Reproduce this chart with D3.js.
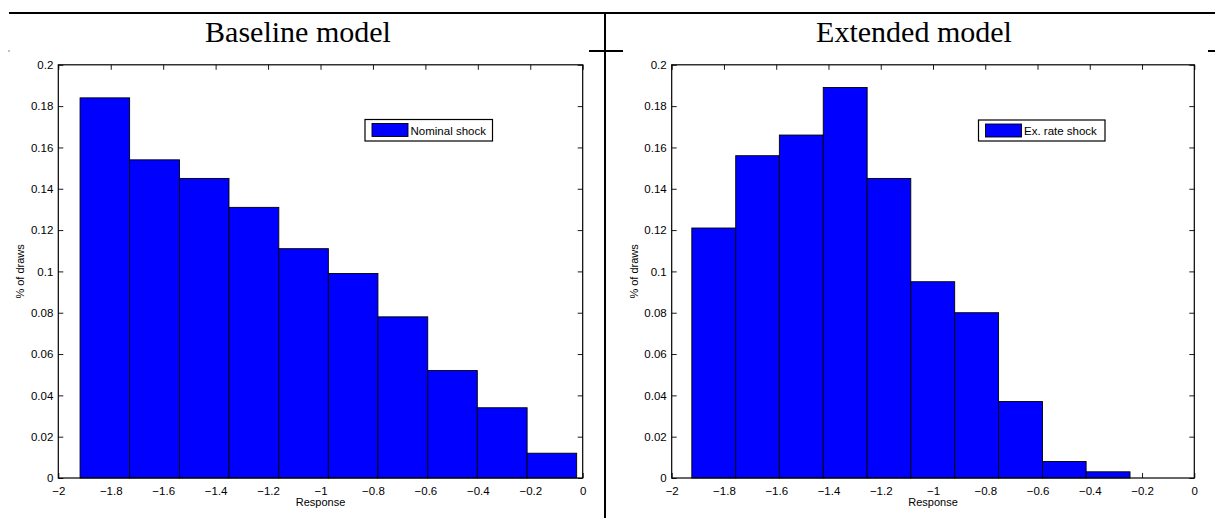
<!DOCTYPE html>
<html>
<head>
<meta charset="utf-8">
<script src="https://cdn.jsdelivr.net/npm/d3@7"></script>
<style>
  html, body { margin: 0; padding: 0; background: #fff; }
  svg { display: block; }
</style>
</head>
<body>
<svg id="chart" width="1215" height="518"></svg>
<script>
// ---------- data ----------
const panelTitles = ["Baseline model", "Extended model"];
const legendLabels = ["Nominal shock", "Ex. rate shock"];
const xTickValues = [-2, -1.8, -1.6, -1.4, -1.2, -1, -0.8, -0.6, -0.4, -0.2, 0];
const yTickValues = [0, 0.02, 0.04, 0.06, 0.08, 0.1, 0.12, 0.14, 0.16, 0.18, 0.2];
const xLabel = "Response";
const yLabel = "% of draws";

// bin edges
const baselineEdges = [-1.917, -1.728, -1.538, -1.349, -1.159, -0.970, -0.781, -0.591, -0.402, -0.212, -0.023];
const baselineValues = [0.184, 0.154, 0.145, 0.131, 0.111, 0.099, 0.078, 0.052, 0.034, 0.012];

const extendedEdges = [-1.923, -1.755, -1.588, -1.420, -1.252, -1.085, -0.917, -0.749, -0.581, -0.414, -0.246];
const extendedValues = [0.121, 0.156, 0.166, 0.189, 0.145, 0.095, 0.080, 0.037, 0.008, 0.003];

// ---------- drawing ----------
const svg = d3.select("#chart");
const fmt = v => (v < 0 ? "\u2212" : "") + String(Math.abs(v));

// page decorations (table rules)
const deco = svg.append("g").attr("stroke", "#000").attr("fill", "none");
deco.append("line").attr("x1", 9).attr("x2", 1215).attr("y1", 13).attr("y2", 13).attr("stroke-width", 2.2);
deco.append("line").attr("x1", 605).attr("x2", 605).attr("y1", 13).attr("y2", 518).attr("stroke-width", 2);
deco.append("line").attr("x1", 589).attr("x2", 623).attr("y1", 51).attr("y2", 51).attr("stroke-width", 2);
deco.append("line").attr("x1", 1208).attr("x2", 1215).attr("y1", 51).attr("y2", 51).attr("stroke-width", 2);
deco.append("rect").attr("x", 8.5).attr("y", 50.5).attr("width", 1).attr("height", 1).attr("fill", "#000").attr("stroke", "none");

const panels = [
  { title: panelTitles[0], legend: legendLabels[0], edges: baselineEdges, values: baselineValues,
    x0: 58.3, x1: 582.7, titleX: 298, legendBox: [365, 119.5, 127.5, 21.5] },
  { title: panelTitles[1], legend: legendLabels[1], edges: extendedEdges, values: extendedValues,
    x0: 671.7, x1: 1194.3, titleX: 914, legendBox: [978.5, 120, 126.5, 21] }
];

const yTop = 64.8, yBot = 478;

panels.forEach(p => {
  const g = svg.append("g");
  const x = d3.scaleLinear().domain([-2, 0]).range([p.x0, p.x1]);
  const y = d3.scaleLinear().domain([0, 0.2]).range([yBot, yTop]);

  // title
  g.append("text")
    .attr("x", p.titleX).attr("y", 41.5)
    .attr("text-anchor", "middle")
    .attr("font-family", "'Liberation Serif', 'Times New Roman', serif")
    .attr("font-size", 30)
    .text(p.title);

  // axes (inward ticks, Matlab style) - drawn under the bars
  const tickLen = 5;
  const axB = g.append("g").attr("transform", `translate(0,${yBot})`)
    .call(d3.axisBottom(x).tickValues(xTickValues).tickFormat(fmt).tickSizeInner(-tickLen).tickSizeOuter(0).tickPadding(9));
  const axT = g.append("g").attr("transform", `translate(0,${yTop})`)
    .call(d3.axisTop(x).tickValues(xTickValues).tickFormat("").tickSizeInner(-tickLen).tickSizeOuter(0));
  const axL = g.append("g").attr("transform", `translate(${p.x0},0)`)
    .call(d3.axisLeft(y).tickValues(yTickValues).tickFormat(d => String(d)).tickSizeInner(-tickLen).tickSizeOuter(0).tickPadding(9));
  const axR = g.append("g").attr("transform", `translate(${p.x1},0)`)
    .call(d3.axisRight(y).tickValues(yTickValues).tickFormat("").tickSizeInner(-tickLen).tickSizeOuter(0));

  [axB, axT, axL, axR].forEach(a => {
    a.select(".domain").remove();
    a.selectAll("line").attr("stroke", "#000").attr("stroke-width", 0.9);
    a.selectAll("text")
      .attr("font-family", "'Liberation Sans', Arial, sans-serif")
      .attr("font-size", 11.5)
      .attr("fill", "#000");
  });
  axL.selectAll("text").attr("dx", "4");

  // bars
  const bins = p.values.map((v, i) => ({ a: p.edges[i], b: p.edges[i + 1], v }));
  g.append("g").selectAll("rect").data(bins).join("rect")
    .attr("x", d => x(d.a))
    .attr("width", d => x(d.b) - x(d.a))
    .attr("y", d => y(d.v))
    .attr("height", d => y(0) - y(d.v))
    .attr("fill", "#0000ff")
    .attr("stroke", "#000")
    .attr("stroke-width", 0.9);

  // box
  g.append("rect")
    .attr("x", p.x0).attr("y", yTop)
    .attr("width", p.x1 - p.x0).attr("height", yBot - yTop)
    .attr("fill", "none").attr("stroke", "#000").attr("stroke-width", 1.2);

  // axis labels
  g.append("text")
    .attr("x", (p.x0 + p.x1) / 2).attr("y", 506)
    .attr("text-anchor", "middle")
    .attr("font-family", "'Liberation Sans', Arial, sans-serif")
    .attr("font-size", 11)
    .text(xLabel);
  g.append("text")
    .attr("transform", `translate(${p.x0 - 34},${(yTop + yBot) / 2}) rotate(-90)`)
    .attr("text-anchor", "middle")
    .attr("font-family", "'Liberation Sans', Arial, sans-serif")
    .attr("font-size", 11)
    .text(yLabel);

  // legend
  const [lx, ly, lw, lh] = p.legendBox;
  const lg = g.append("g");
  lg.append("rect").attr("x", lx).attr("y", ly).attr("width", lw).attr("height", lh)
    .attr("fill", "#fff").attr("stroke", "#000").attr("stroke-width", 1.2);
  lg.append("rect").attr("x", lx + 7).attr("y", ly + 4).attr("width", 36).attr("height", 13)
    .attr("fill", "#0000ff").attr("stroke", "#000").attr("stroke-width", 0.9);
  lg.append("text").attr("x", lx + 45.5).attr("y", ly + 15)
    .attr("font-family", "'Liberation Sans', Arial, sans-serif")
    .attr("font-size", 11.5)
    .text(p.legend);
});
</script>
</body>
</html>
